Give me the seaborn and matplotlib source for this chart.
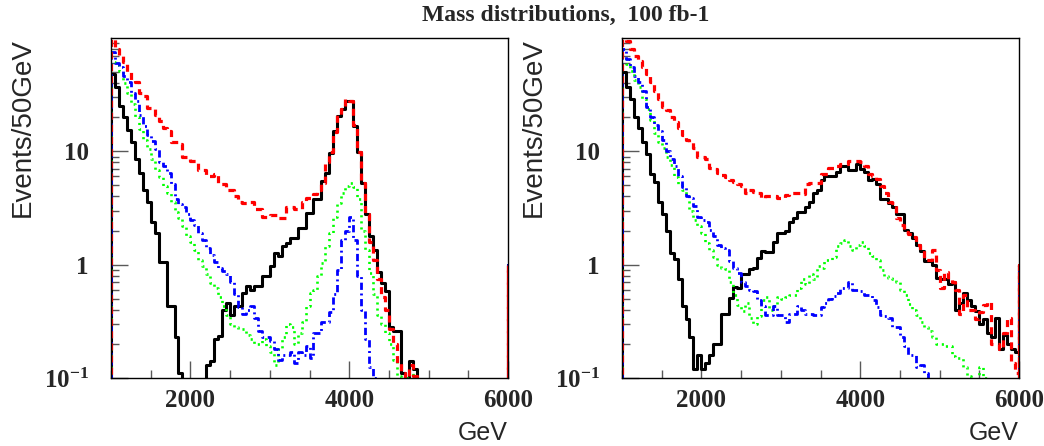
"""
Mass distributions, 100 fb-1 -- two log-scale step histograms (50 GeV bins).
Saves out.png (1044x446).
"""
import matplotlib
matplotlib.use("Agg")
import matplotlib.pyplot as plt
import numpy as np
import seaborn as sns
from matplotlib.ticker import FixedLocator, LogLocator, MultipleLocator, NullFormatter

# ---- data: events per 50 GeV bin, bins start at 1000, 1050, ..., 5950 GeV ----
BIN_LO, BIN_HI, BIN_W = 1000, 6000, 50
bin_starts = np.arange(BIN_LO, BIN_HI, BIN_W)

# left panel (narrow resonance)
left_black = [
    48, 37, 25, 20, 15.5, 12, 8.5, 6.5, 4.6, 3.6,
    2.4, 1.9, 1.05, 1.05, 0.43, 0.43, 0.23, 0.11, 0, 0,
    0, 0, 0, 0, 0.13, 0.14, 0.22, 0.235, 0.40, 0.46,
    0.36, 0.43, 0.43, 0.565, 0.65, 0.6, 0.65, 0.65, 0.79, 0.8,
    0.97, 1.27, 1.2, 1.45, 1.56, 1.72, 1.72, 2.1, 2.1, 2.87,
    2.87, 3.76, 3.76, 5.5, 6.5, 9.7, 15, 20.5, 23.5, 27.8,
    27.8, 16.8, 9.8, 5.3, 2.8, 1.8, 1.36, 0.87, 0.69, 0.58,
    0.28, 0.26, 0.26, 0.11, 0.1, 0.14, 0.12, 0, 0, 0,
    0, 0, 0, 0, 0, 0, 0, 0, 0, 0,
    0, 0, 0, 0, 0, 0, 0, 0, 0, 0,
]
left_red = [
    110, 80, 70, 61, 50, 43, 41, 33, 31, 24,
    23.5, 21, 18.5, 16, 15, 12, 12, 11.5, 9, 9,
    8.2, 8.2, 6.9, 6.9, 6.0, 6.0, 6.3, 5.1, 5.1, 4.6,
    4.6, 4.0, 3.6, 3.5, 3.5, 3.6, 3.1, 3.1, 2.66, 2.66,
    2.77, 2.77, 2.6, 2.6, 3.2, 3.2, 3.1, 3.1, 3.6, 3.9,
    3.9, 4.2, 4.6, 5.3, 8, 9.8, 14.7, 21, 23.5, 28.8,
    28, 17, 9.8, 5.3, 2.8, 1.6, 1.1, 0.75, 0.52, 0.4,
    0.27, 0.2, 0.135, 0.11, 0.1, 0.13, 0.105, 0, 0, 0,
    0, 0, 0, 0, 0, 0, 0, 0, 0, 0,
    0, 0, 0, 0, 0, 0, 0, 0, 0, 0,
]
left_blue = [
    75, 60, 55, 46, 41, 33, 28, 21, 16.7, 14,
    12.3, 10.4, 8, 7.4, 6.5, 5.1, 3.8, 3.4, 3.2, 2.8,
    2.5, 2.26, 1.92, 1.66, 1.41, 1.22, 1.06, 0.94, 0.88, 0.82,
    0.71, 0.55, 0.42, 0.37, 0.4, 0.43, 0.34, 0.26, 0.23, 0.23,
    0.21, 0.18, 0.145, 0.16, 0.16, 0.17, 0.135, 0.17, 0.16, 0.19,
    0.15, 0.25, 0.25, 0.31, 0.31, 0.38, 0.55, 0.9, 1.66, 2.0,
    2.66, 1.66, 0.8, 0.4, 0.22, 0.125, 0.1, 0, 0, 0,
    0, 0, 0, 0, 0, 0, 0, 0, 0, 0,
    0, 0, 0, 0, 0, 0, 0, 0, 0, 0,
    0, 0, 0, 0, 0, 0, 0, 0, 0, 0,
]
left_green = [
    62, 58, 51, 40, 33, 26, 20, 15.6, 12.7, 10.4,
    8.6, 6.9, 5.9, 4.9, 4.3, 3.6, 2.94, 2.6, 2.2, 1.8,
    1.6, 1.36, 1.1, 0.97, 0.82, 0.69, 0.62, 0.52, 0.43, 0.36,
    0.3, 0.28, 0.27, 0.27, 0.24, 0.22, 0.2, 0.2, 0.22, 0.19,
    0.17, 0.13, 0.18, 0.23, 0.3, 0.28, 0.2, 0.25, 0.31, 0.43,
    0.56, 0.6, 0.79, 1.04, 1.45, 1.9, 2.66, 3.5, 4.3, 4.9,
    5.3, 4.8, 3.8, 2.0, 1.36, 0.85, 0.55, 0.36, 0.3, 0.25,
    0.2, 0.145, 0.105, 0.09, 0.1, 0.11, 0, 0, 0, 0,
    0, 0, 0, 0, 0, 0, 0, 0, 0, 0,
    0, 0, 0, 0, 0, 0, 0, 0, 0, 0,
]

# right panel (wide resonance)
right_black = [
    50, 37, 29, 20, 16, 12, 9.4, 6.3, 5.4, 3.6,
    2.8, 1.97, 1.28, 1.13, 0.74, 0.43, 0.33, 0.23, 0.12, 0.16,
    0.12, 0.135, 0.16, 0.2, 0.2, 0.37, 0.37, 0.51, 0.64, 0.62,
    0.82, 0.82, 0.92, 0.93, 1.15, 1.31, 1.3, 1.3, 1.6, 1.92,
    1.92, 1.97, 2.4, 2.6, 2.9, 2.94, 3.2, 3.6, 4.3, 4.6,
    5.6, 6, 6, 6, 6.6, 7.4, 7.4, 6.9, 6.9, 7.7,
    7.0, 6.6, 5.6, 5.7, 5.1, 3.8, 3.8, 3.5, 3.2, 2.8,
    2.8, 2.04, 1.92, 1.73, 1.5, 1.31, 1.07, 1.07, 1.0, 0.77,
    0.75, 0.75, 0.67, 0.71, 0.4, 0.46, 0.56, 0.49, 0.43, 0.39,
    0.3, 0.33, 0.25, 0.23, 0.34, 0.18, 0.24, 0.2, 0.18, 0.17,
]
right_red = [
    110, 95, 80, 70, 63, 55, 48, 41, 34, 29,
    24.5, 23, 20, 18, 16, 14, 12.7, 12, 10.8, 9,
    9, 8.5, 7.2, 7, 6.5, 6.2, 5.9, 5.6, 5.4, 5.1,
    4.9, 4.3, 4.6, 4.4, 4.3, 3.9, 4.0, 4.0, 4.0, 3.9,
    3.9, 4.1, 4.3, 4.3, 4.3, 4.2, 5.1, 5.3, 5.3, 5.3,
    6.3, 6.3, 7.2, 7.2, 7.4, 7.7, 7.7, 8.2, 8.2, 8.2,
    8.0, 7.4, 6.3, 6.0, 5.7, 4.9, 4.3, 3.6, 3.5, 2.6,
    2.26, 1.95, 1.85, 1.77, 1.5, 1.36, 1.1, 1.1, 1.36, 0.9,
    0.62, 0.87, 0.75, 0.7, 0.6, 0.37, 0.54, 0.4, 0.4, 0.33,
    0.38, 0.44, 0.47, 0.2, 0.2, 0.18, 0.25, 0.34, 0.135, 0.11,
]
right_blue = [
    80, 65, 55, 46, 41, 34, 24.5, 20, 17, 15,
    12.7, 10, 8.5, 7.4, 6, 4.8, 4.0, 3.9, 3.3, 2.66,
    2.5, 2.4, 2.04, 1.78, 1.5, 1.4, 1.36, 1.07, 0.94, 0.85,
    0.71, 0.65, 0.6, 0.58, 0.49, 0.43, 0.36, 0.36, 0.43, 0.36,
    0.36, 0.31, 0.37, 0.37, 0.43, 0.4, 0.37, 0.37, 0.36, 0.36,
    0.42, 0.46, 0.5, 0.53, 0.56, 0.62, 0.62, 0.71, 0.6, 0.6,
    0.58, 0.54, 0.54, 0.49, 0.42, 0.36, 0.35, 0.34, 0.28, 0.28,
    0.23, 0.19, 0.16, 0.16, 0.125, 0.13, 0.11, 0, 0, 0,
    0, 0, 0, 0, 0, 0, 0, 0, 0, 0,
    0, 0, 0, 0, 0, 0, 0, 0, 0, 0,
]
right_green = [
    68, 59, 51, 43, 37, 29, 23.5, 19, 14.5, 12,
    10.8, 9, 7.5, 5.9, 5.1, 4.6, 4.0, 3.0, 2.5, 2.2,
    1.92, 1.56, 1.36, 1.18, 1.0, 0.94, 0.92, 0.7, 0.54, 0.44,
    0.39, 0.46, 0.34, 0.3, 0.35, 0.49, 0.52, 0.4, 0.43, 0.52,
    0.5, 0.52, 0.54, 0.54, 0.62, 0.74, 0.67, 0.82, 0.74, 0.97,
    0.94, 1.1, 1.1, 1.18, 1.45, 1.55, 1.66, 1.45, 1.36, 1.5,
    1.6, 1.45, 1.28, 1.2, 1.1, 0.9, 0.8, 0.77, 0.74, 0.71,
    0.6, 0.54, 0.45, 0.4, 0.36, 0.31, 0.28, 0.26, 0.23, 0.2,
    0.2, 0.19, 0.19, 0.155, 0.15, 0.15, 0.126, 0.105, 0.09, 0.09,
    0.126, 0.1, 0, 0, 0, 0, 0, 0, 0, 0,
]

# overflow content drawn as the closing edge at 6000 GeV
overflow = 1.0

# ---- styles (order = drawing order) ----
STYLES = {
    "black": dict(color="black", lw=2.2, ls="-"),
    "green": dict(color="#00ff00", lw=1.9, ls=(0, (0.8, 1.5))),
    "blue": dict(color="#0000ff", lw=2.0, ls=(0, (2.6, 1.3, 0.7, 1.3))),
    "red": dict(color="#ff0000", lw=2.3, ls=(0, (2.2, 1.6))),
}

sns.set_style("ticks")
plt.rcParams["font.family"] = ["Liberation Serif", "DejaVu Serif"]
plt.rcParams["font.weight"] = "bold"
plt.rcParams["mathtext.fontset"] = "custom"
plt.rcParams["mathtext.rm"] = "Liberation Serif:bold"
plt.rcParams["mathtext.it"] = "Liberation Serif:bold"
plt.rcParams["mathtext.bf"] = "Liberation Serif:bold"

fig = plt.figure(figsize=(10.44, 4.46), dpi=100)
ax_l = fig.add_axes([111 / 1044, 68 / 446, 397 / 1044, 340 / 446])
ax_r = fig.add_axes([622 / 1044, 68 / 446, 397 / 1044, 340 / 446])


def step_xy(vals):
    xs = np.r_[BIN_LO, bin_starts, BIN_HI, BIN_HI]
    ys = np.r_[0.0, np.asarray(vals, float), overflow, 0.0]
    return xs, ys


def draw_panel(ax, series):
    for name in ["black", "green", "blue", "red"]:
        st = STYLES[name]
        xs, ys = step_xy(series[name])
        sns.lineplot(x=xs, y=ys, ax=ax, estimator=None, sort=False,
                     drawstyle="steps-post", color=st["color"],
                     linewidth=st["lw"], linestyle=st["ls"], clip_on=True)

    ax.set_yscale("log")
    ax.set_xlim(BIN_LO, BIN_HI)
    ax.set_ylim(0.1, 100)

    ax.xaxis.set_major_locator(FixedLocator([2000, 4000, 6000]))
    ax.xaxis.set_minor_locator(MultipleLocator(500))
    ax.yaxis.set_major_locator(FixedLocator([0.1, 1, 10]))
    ax.set_yticklabels(["10$^{-1}$", "1", "10"])
    ax.yaxis.set_minor_locator(LogLocator(base=10, subs=np.arange(2, 10)))
    ax.yaxis.set_minor_formatter(NullFormatter())

    ax.tick_params(which="both", direction="in", color="0.35", width=1.0,
                   top=False, right=False, labelsize=18)
    ax.tick_params(which="major", length=12)
    ax.tick_params(which="minor", length=6)
    ax.tick_params(axis="x", pad=8)
    ax.tick_params(axis="y", pad=16)

    for side in ["top", "right", "bottom", "left"]:
        ax.spines[side].set_visible(True)
        ax.spines[side].set_linewidth(1.0)
        ax.spines[side].set_color("black")

    ax.set_ylabel("Events/50GeV", family="Liberation Sans", weight="normal",
                  fontsize=20, loc="top")
    ax.yaxis.set_label_coords(-0.19, 1.0)
    ax.set_xlabel("GeV", family="Liberation Sans", weight="normal",
                  fontsize=18, loc="right")
    ax.xaxis.set_label_coords(1.0, -0.125)


draw_panel(ax_l, {"black": left_black, "red": left_red,
                  "blue": left_blue, "green": left_green})
draw_panel(ax_r, {"black": right_black, "red": right_red,
                  "blue": right_blue, "green": right_green})

fig.text(566 / 1044, 1 - 15 / 446, "Mass distributions,  100 fb-1",
         ha="center", va="center", fontsize=17, fontweight="bold")

fig.savefig("out.png", dpi=100)
